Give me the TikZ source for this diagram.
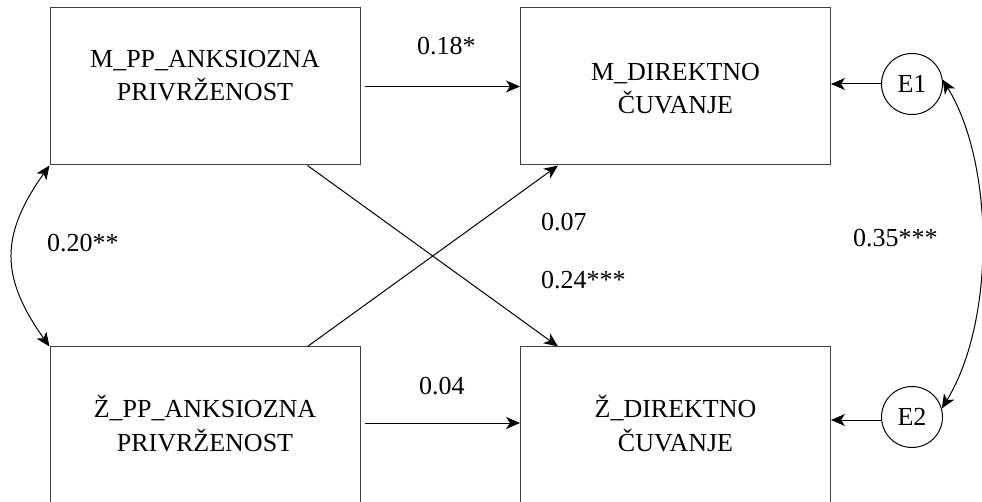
\documentclass[tikz,border=0pt]{standalone}
\usepackage{fontspec}
\setmainfont{Liberation Serif}
\usetikzlibrary{arrows.meta}
\begin{document}
\begin{tikzpicture}[x=1pt,y=-1pt,
  box/.style={draw=black!75,line width=1pt,minimum width=310pt,minimum height=157pt,inner sep=0pt},
  txt/.style={align=center,font=\fontsize{26}{33.5}\selectfont,inner sep=0pt},
  lab/.style={font=\fontsize{26}{31}\selectfont,inner sep=0pt,anchor=base west},
  err/.style={draw,circle,line width=1pt,minimum size=61pt,inner sep=0pt,font=\fontsize{26}{31}\selectfont},
  arr/.style={line width=1pt,-{Stealth[length=14pt,width=12pt,inset=4pt]}},
  dbl/.style={line width=1pt,{Stealth[length=14pt,width=12pt,inset=4pt]}-{Stealth[length=14pt,width=12pt,inset=4pt]}}]
\useasboundingbox (0,0) rectangle (982,502);
\clip (0,0) rectangle (982,502);
% boxes
\node[box] (A) at (205,86.5) {};
\node[box] (B) at (675.5,86.5) {};
\node[box] (C) at (205,425.5) {};
\node[box] (D) at (675.5,425.5) {};
% box texts (base anchor = baseline of last line)
\node[txt,anchor=base] (ta) at (205,101) {M\_PP\_ANKSIOZNA\\PRIVRŽENOST};
\node[txt,anchor=base] (tb) at (675.5,114) {M\_DIREKTNO\\ČUVANJE};
\node[txt,anchor=base] (tc) at (205,451) {Ž\_PP\_ANKSIOZNA\\PRIVRŽENOST};
\node[txt,anchor=base] (td) at (675.5,451) {Ž\_DIREKTNO\\ČUVANJE};
% error terms
\node[err] (E1) at (912,84) {E1};
\node[err] (E2) at (912,417) {E2};
% paths
\draw[arr] ([xshift=4pt]A.east) -- (B.west);
\draw[arr] ([xshift=4pt,yshift=2.5pt]C.east) -- ([yshift=2.5pt]C.east -| D.west);
\draw[arr] ([xshift=258pt]A.south west) -- ([xshift=38pt]D.north west);
\draw[arr] ([xshift=258pt]C.north west) -- ([xshift=38pt]B.south west);
\draw[arr] (E1.west) -- (E1.west -| B.east);
\draw[arr] ([yshift=-3pt]E2.west) -- ([yshift=-3pt]E2.west -| D.east);
\draw[dbl] (A.south west) .. controls (0,235) and (0,277) .. (C.north west);
\draw[dbl] (E1.8) .. controls (995,165) and (995,322) .. (E2.16);
% labels
\node[lab] (l1) at (417,55) {0.18*};
\node[lab] (l2) at (541,231) {0.07};
\node[lab] (l3) at (541,289) {0.24***};
\node[lab] (l4) at (853,247) {0.35***};
\node[lab] (l5) at (419,394) {0.04};
\node[lab] (l6) at (47,252) {0.20**};
\end{tikzpicture}
\end{document}
